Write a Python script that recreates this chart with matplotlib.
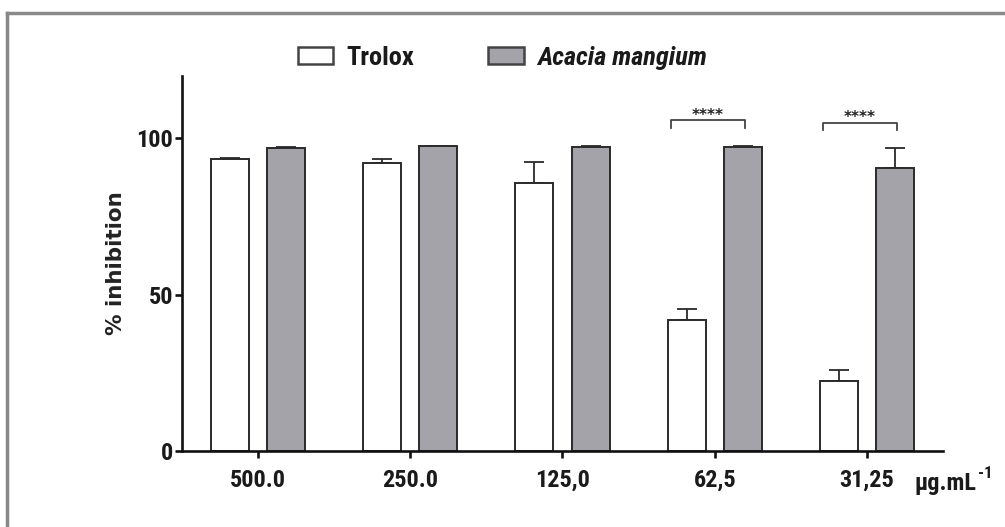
import matplotlib.pyplot as plt
import matplotlib.patches as mpatches
from matplotlib.lines import Line2D
import numpy as np

# data
concentrations = ["500.0", "250.0", "125,0", "62,5", "31,25"]
trolox = [93.3, 92.0, 85.6, 42.0, 22.4]
trolox_err = [0.3, 1.3, 7.0, 3.5, 3.6]
acacia = [97.0, 97.5, 97.2, 97.3, 90.4]
acacia_err = [0.3, 0.2, 0.3, 0.4, 6.4]
sig_groups = [3, 4]
sig_heights = [105.8, 105.1]
sig_labels = ["****", "****"]

narrow = ['Roboto Condensed', 'PT Sans Narrow', 'Liberation Sans', 'DejaVu Sans']
plt.rcParams['font.family'] = narrow

fig = plt.figure(figsize=(10.05, 5.27), dpi=100)
ax = fig.add_axes([0.1811, 0.1442, 0.7572, 0.7116])

x = np.arange(len(concentrations))
w = 0.25
off = 0.185
grey = '#a3a3a9'
edge = '#2a2a2a'

ax.bar(x - off, trolox, w, color='white', edgecolor=edge, linewidth=1.4, zorder=2)
ax.bar(x + off, acacia, w, color=grey, edgecolor=edge, linewidth=1.4, zorder=2)
ax.errorbar(x - off, trolox, yerr=[np.zeros(len(x)), trolox_err], fmt='none',
            ecolor=edge, elinewidth=1.3, capsize=7, capthick=1.3, zorder=1)
ax.errorbar(x + off, acacia, yerr=[np.zeros(len(x)), acacia_err], fmt='none',
            ecolor=edge, elinewidth=1.3, capsize=7, capthick=1.3, zorder=1)

# significance brackets
for g, h, lab in zip(sig_groups, sig_heights, sig_labels):
    x0, x1 = g - 0.29, g + 0.20
    ax.plot([x0, x0, x1, x1], [h - 2.3, h, h, h - 2.3], color='#444444', lw=1.3,
            clip_on=False)
    ax.text((x0 + x1) / 2, h + 1.6, lab, ha='center', va='center', fontsize=11,
            fontweight='bold', color='#222222', family='DejaVu Sans')

ax.set_xlim(-0.5, 4.5)
ax.set_ylim(0, 120)
ax.set_yticks([0, 50, 100])
ax.set_xticks(x)
ax.set_xticklabels(concentrations)
for s in ['top', 'right']:
    ax.spines[s].set_visible(False)
for s in ['left', 'bottom']:
    ax.spines[s].set_linewidth(1.9)
    ax.spines[s].set_color('#111111')
ax.tick_params(axis='both', width=1.9, length=5, color='#111111', labelsize=17.5)
ax.tick_params(axis='x', pad=8)
ax.tick_params(axis='y', pad=1.5)
for lbl in ax.get_xticklabels() + ax.get_yticklabels():
    lbl.set_fontweight('bold')
    lbl.set_color('#1a1a1a')

ax.set_ylabel('% inhibition', family='DejaVu Sans', fontsize=15.5,
              fontweight='bold', color='#222222')
ax.yaxis.set_label_coords(-0.073, 0.5)

unit = fig.text(0.9104, 0.083, 'µg.mL', fontsize=17.5, fontweight='bold',
                color='#1a1a1a', ha='left', va='center')
ax.annotate('-1', xy=(1, 1), xycoords=unit, xytext=(1, -1),
            textcoords='offset points', fontsize=12, fontweight='bold',
            color='#1a1a1a', ha='left', va='center')

# legend
handles = [mpatches.Patch(facecolor='white', edgecolor='#444444', linewidth=1.8),
           mpatches.Patch(facecolor=grey, edgecolor='#444444', linewidth=1.8)]
leg = fig.legend(handles, ['Trolox', 'Acacia mangium'], loc='center',
                 bbox_to_anchor=(0.5, 0.89), ncol=2, frameon=False,
                 fontsize=19, handlelength=1.35, handleheight=0.6,
                 columnspacing=2.8, handletextpad=0.5)
for t in leg.get_texts():
    t.set_fontweight('bold')
    t.set_color('#1a1a1a')
leg.get_texts()[1].set_style('italic')

# outer frame (top and left edges)
fig.add_artist(Line2D([0.007, 0.007], [0, 0.975], color='#888888', lw=2.5,
                      transform=fig.transFigure))
fig.add_artist(Line2D([0.007, 1.0], [0.975, 0.975], color='#888888', lw=2.5,
                      transform=fig.transFigure))

fig.savefig('out.png', dpi=100)
